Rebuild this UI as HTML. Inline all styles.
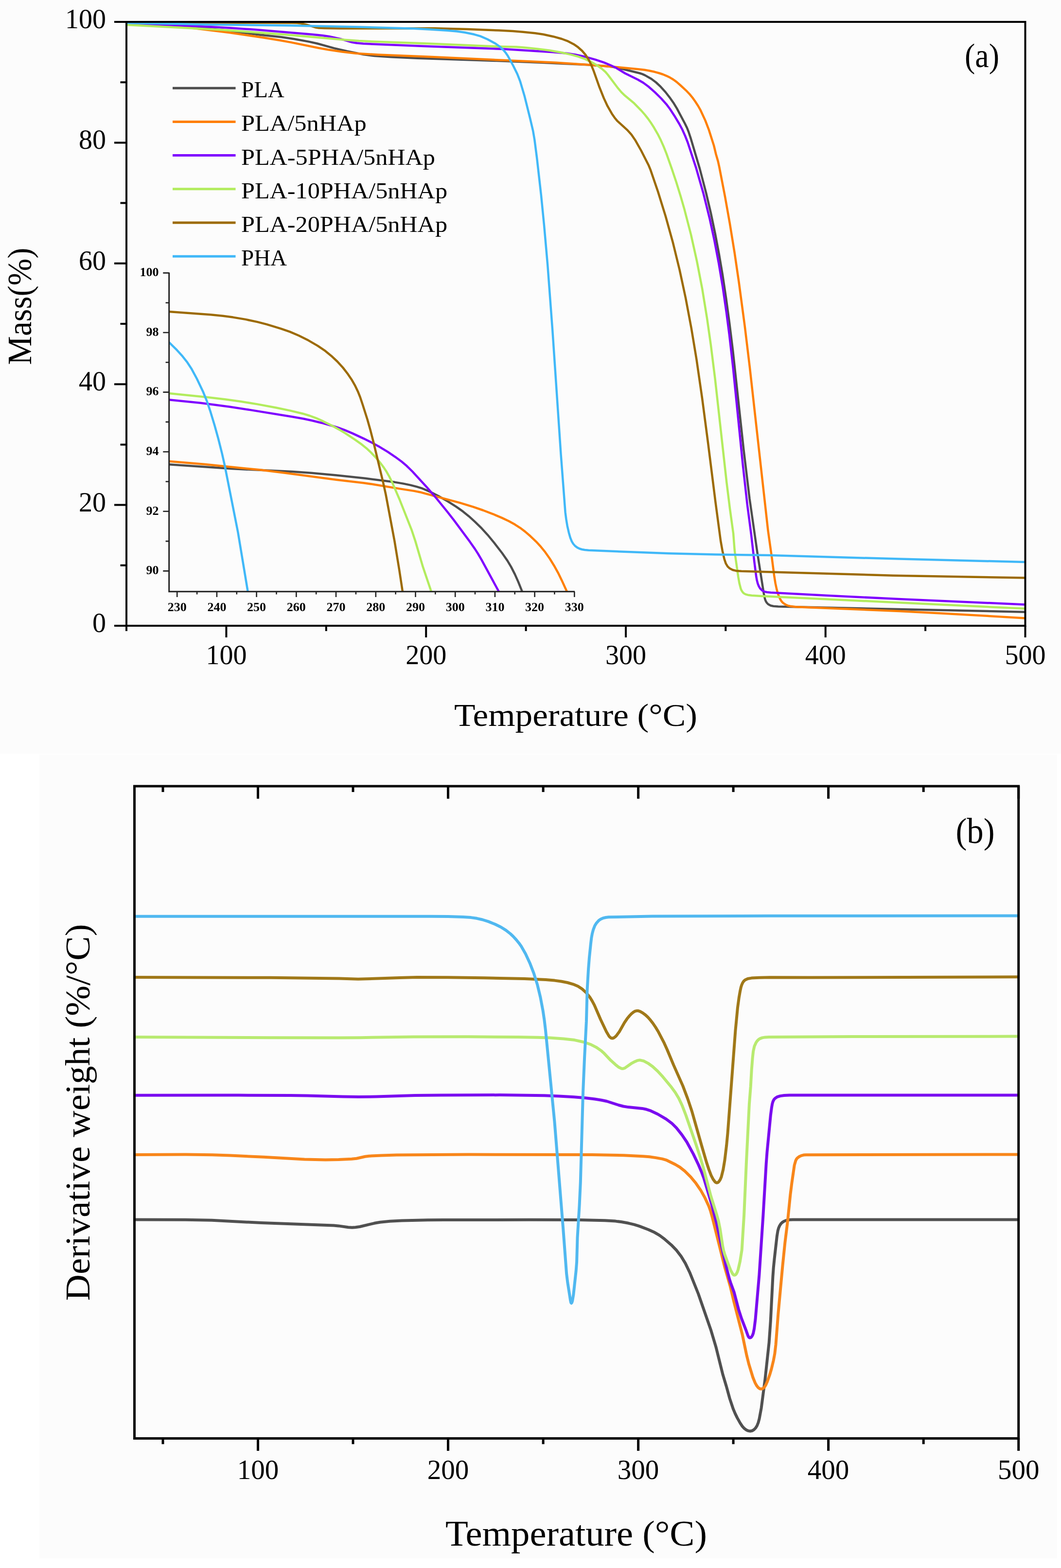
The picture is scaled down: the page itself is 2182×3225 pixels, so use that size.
<!DOCTYPE html><html><head><meta charset="utf-8"><title>TGA / DTG</title>
<style>html,body{margin:0;padding:0;background:#fff;}svg{display:block;}text{font-family:'Liberation Serif', 'DejaVu Serif', serif;fill:#000;}</style></head><body>
<svg xmlns="http://www.w3.org/2000/svg" width="2182" height="3225" viewBox="0 0 2182 3225">
<rect x="0" y="0" width="2182" height="3225" fill="#ffffff"/>
<rect x="0" y="0" width="2182" height="1550" fill="#fcfcfc"/>
<rect x="81" y="1552" width="2093" height="1653" fill="#fcfcfc"/>
<g id="plotA">
<defs><clipPath id="clipA"><rect x="258" y="45" width="1852" height="1242"/></clipPath><clipPath id="clipI"><rect x="347" y="540" width="835" height="677"/></clipPath></defs>
<g clip-path="url(#clipA)" fill="none" stroke-width="4.5" stroke-linejoin="round" stroke-linecap="round">
<path d="M260.0,47.5 L344.9,52.5 L422.6,58.3 L460.4,62.3 L533.9,71.5 L578.6,76.2 L605.3,80.2 L634.8,85.6 L652.4,89.5 L687.1,99.1 L713.4,105.3 L747.7,112.1 L770.5,115.1 L804.4,117.2 L858.4,119.7 L1021.3,125.1 L1119.2,128.9 L1209.1,133.2 L1249.0,136.3 L1260.9,137.8 L1272.7,140.0 L1315.4,150.5 L1321.1,152.4 L1326.6,154.9 L1339.6,162.3 L1349.2,169.5 L1358.7,178.4 L1368.7,189.5 L1378.5,202.2 L1385.9,212.8 L1392.1,223.1 L1408.5,254.0 L1412.9,263.0 L1416.2,271.4 L1420.3,283.7 L1439.1,347.0 L1452.0,396.3 L1462.1,439.1 L1470.9,481.2 L1478.7,522.5 L1486.1,565.9 L1493.2,613.3 L1500.2,664.9 L1507.2,721.4 L1529.3,924.3 L1541.5,1025.5 L1557.3,1135.4 L1570.7,1220.4 L1573.2,1232.1 L1574.6,1235.8 L1576.5,1239.2 L1579.8,1242.7 L1584.9,1245.5 L1590.6,1246.8 L1600.6,1247.5 L2108.5,1258.7" stroke="#4d4d4d"/>
<path d="M260.0,47.5 L323.9,51.0 L356.8,53.4 L389.7,56.9 L471.1,66.9 L542.3,77.5 L575.9,83.0 L598.5,87.1 L655.4,98.7 L675.0,102.3 L703.7,106.5 L731.5,109.8 L777.5,112.4 L882.4,116.8 L1143.2,128.7 L1214.1,133.6 L1270.9,138.3 L1314.7,142.4 L1325.6,143.8 L1335.5,145.5 L1346.2,147.8 L1355.9,150.5 L1363.4,153.0 L1370.8,156.1 L1378.0,159.6 L1384.9,163.7 L1391.3,168.4 L1398.9,175.0 L1410.7,185.8 L1418.3,193.7 L1424.0,200.6 L1429.8,208.8 L1435.8,218.0 L1440.7,226.7 L1450.4,247.6 L1457.9,267.2 L1468.2,299.6 L1472.4,317.1 L1476.6,331.5 L1479.2,343.2 L1491.0,404.1 L1500.8,459.2 L1510.6,519.4 L1519.5,579.8 L1531.7,671.0 L1541.8,754.4 L1579.5,1091.4 L1587.6,1148.9 L1592.1,1183.6 L1594.6,1199.4 L1597.1,1211.1 L1599.7,1220.8 L1602.5,1228.3 L1605.7,1234.4 L1608.0,1237.6 L1610.8,1240.4 L1616.6,1244.2 L1620.3,1245.6 L1625.1,1246.8 L1636.9,1248.3 L1849.8,1256.9 L1935.7,1261.4 L2108.5,1271.4" stroke="#ff7f00"/>
<path d="M260.0,47.5 L413.9,54.2 L473.8,57.4 L525.7,61.0 L641.3,70.8 L663.2,72.9 L677.0,74.9 L699.5,79.9 L724.4,87.1 L733.3,88.5 L747.3,89.8 L872.2,95.1 L1037.1,100.9 L1137.9,107.3 L1165.8,109.8 L1183.6,112.4 L1201.2,116.1 L1224.3,122.6 L1242.3,128.7 L1255.2,134.0 L1267.0,139.5 L1285.8,151.0 L1311.8,163.8 L1323.0,170.3 L1333.5,178.0 L1347.0,189.9 L1359.8,202.5 L1370.5,214.4 L1377.7,224.0 L1387.0,238.2 L1396.8,254.5 L1403.4,266.8 L1409.1,279.6 L1414.2,292.6 L1431.7,345.8 L1446.3,396.8 L1459.6,450.2 L1469.3,495.1 L1478.3,542.3 L1486.4,590.6 L1494.0,643.1 L1499.9,688.7 L1507.5,755.3 L1527.5,954.3 L1536.8,1037.8 L1545.0,1100.3 L1551.4,1155.9 L1555.2,1185.7 L1556.6,1193.5 L1558.4,1200.3 L1560.6,1205.8 L1563.1,1210.1 L1567.1,1214.3 L1571.4,1216.6 L1577.1,1218.0 L1585.0,1218.8 L1698.9,1224.8 L1847.7,1232.0 L2108.5,1243.4" stroke="#7f00ff"/>
<path d="M260.0,51.0 L453.8,61.2 L590.5,71.5 L710.0,82.1 L738.0,84.1 L781.9,86.1 L884.9,89.7 L1025.8,95.8 L1061.8,96.6 L1075.8,97.4 L1104.6,100.4 L1130.4,103.8 L1153.1,107.7 L1173.6,112.1 L1189.1,116.4 L1203.2,121.5 L1215.8,127.4 L1227.9,134.5 L1237.7,141.4 L1245.2,148.0 L1250.4,154.1 L1270.2,180.5 L1277.9,189.6 L1285.1,196.6 L1304.3,212.6 L1319.0,227.6 L1326.2,235.9 L1333.0,244.5 L1338.8,252.7 L1345.2,262.8 L1352.7,275.8 L1359.0,288.3 L1364.7,301.1 L1370.6,316.0 L1381.9,348.1 L1390.8,374.6 L1399.7,403.3 L1407.7,431.2 L1421.0,482.5 L1433.2,537.2 L1444.2,594.1 L1454.0,654.3 L1461.9,709.8 L1470.6,779.3 L1494.3,992.0 L1501.1,1046.6 L1508.1,1097.2 L1510.6,1130.1 L1512.2,1144.0 L1518.3,1186.6 L1520.5,1199.4 L1523.5,1211.0 L1525.1,1214.6 L1527.2,1217.8 L1529.2,1219.9 L1531.6,1221.5 L1534.3,1222.6 L1538.1,1223.7 L1546.0,1224.7 L1565.9,1226.0 L2108.5,1251.8" stroke="#b2ec5d"/>
<path d="M260.0,46.0 L600.1,46.9 L611.1,47.3 L619.0,48.2 L629.8,50.6 L649.8,56.6 L655.7,57.4 L667.7,58.0 L699.7,58.5 L893.8,58.3 L960.8,59.9 L1025.8,62.6 L1054.7,64.1 L1075.7,65.7 L1100.6,68.3 L1117.4,70.8 L1137.9,75.2 L1155.3,80.0 L1168.4,84.9 L1179.9,90.9 L1188.9,97.2 L1197.1,104.5 L1204.2,112.8 L1210.7,122.9 L1215.2,131.8 L1220.5,144.8 L1232.9,179.7 L1241.8,201.9 L1249.4,218.2 L1258.4,233.9 L1264.0,242.1 L1269.1,248.3 L1289.7,267.1 L1298.5,276.7 L1306.9,289.1 L1318.7,310.0 L1334.1,340.3 L1337.5,348.6 L1353.1,394.0 L1368.8,444.6 L1383.8,498.6 L1397.6,555.0 L1410.0,612.6 L1421.7,674.6 L1432.5,739.7 L1444.0,818.9 L1456.0,910.1 L1471.5,1033.2 L1482.1,1112.5 L1485.8,1133.2 L1489.6,1149.8 L1492.8,1159.2 L1496.4,1165.1 L1500.7,1169.1 L1506.8,1172.2 L1513.5,1173.9 L1524.5,1174.8 L1836.5,1183.7 L2108.5,1188.6" stroke="#9c6a00"/>
<path d="M260.0,47.0 L429.0,50.5 L595.1,52.6 L739.1,55.5 L850.1,58.8 L884.1,60.5 L920.0,62.7 L939.9,64.5 L955.8,66.8 L975.4,70.8 L987.8,74.4 L1002.5,80.7 L1019.2,89.8 L1028.9,96.8 L1036.7,104.5 L1040.5,109.2 L1044.4,115.0 L1055.9,136.0 L1063.9,152.2 L1069.7,167.1 L1078.5,196.8 L1089.9,242.4 L1096.1,268.7 L1099.3,287.4 L1104.2,325.1 L1112.9,401.7 L1119.0,463.4 L1126.2,545.1 L1136.2,678.8 L1153.5,934.3 L1162.6,1054.0 L1164.4,1067.9 L1166.7,1081.7 L1169.8,1095.3 L1172.8,1105.9 L1175.8,1113.3 L1178.8,1118.4 L1182.7,1122.9 L1187.5,1126.4 L1191.9,1128.5 L1196.7,1130.0 L1202.6,1131.0 L1210.5,1131.8 L1376.5,1138.3 L1472.5,1140.6 L1582.5,1142.1 L1849.5,1149.6 L2108.5,1156.0" stroke="#40b8f8"/>
</g>
<g clip-path="url(#clipI)" fill="none" stroke-width="4.5" stroke-linejoin="round">
<path d="M347.7,955.3 L476.5,964.1 L601.4,969.9 L640.3,972.8 L692.1,977.5 L750.8,983.7 L811.3,991.6 L829.1,994.6 L843.7,997.6 L857.3,1001.1 L868.7,1004.7 L883.4,1010.9 L902.1,1020.5 L921.2,1031.4 L938.9,1042.6 L952.0,1051.9 L964.4,1061.9 L977.0,1073.3 L990.6,1086.7 L1002.7,1099.9 L1016.1,1116.1 L1032.6,1137.5 L1043.5,1153.1 L1051.1,1165.9 L1058.9,1181.1 L1065.8,1196.6 L1074.0,1217.0" stroke="#4d4d4d"/>
<path d="M347.7,948.7 L422.4,955.1 L533.9,966.3 L586.5,972.7 L691.6,986.7 L747.3,993.3 L768.1,996.2 L821.3,1005.1 L852.0,1009.9 L863.7,1012.2 L945.8,1034.2 L973.5,1042.6 L993.4,1049.5 L1013.9,1057.3 L1032.3,1065.1 L1046.8,1072.0 L1059.0,1078.8 L1069.9,1085.8 L1080.2,1093.6 L1090.8,1102.8 L1102.4,1113.8 L1112.5,1124.8 L1121.3,1135.7 L1130.5,1148.8 L1139.4,1163.2 L1147.7,1178.1 L1155.2,1193.4 L1166.0,1217.0" stroke="#ff7f00"/>
<path d="M347.7,822.3 L412.4,828.7 L472.9,836.7 L514.5,843.1 L601.4,857.3 L624.1,861.3 L641.7,865.0 L661.1,869.7 L680.4,875.0 L694.8,879.4 L707.9,884.1 L724.5,891.1 L748.1,902.1 L766.0,911.1 L780.9,919.3 L797.1,929.2 L812.9,939.8 L825.8,949.3 L836.5,958.3 L847.9,969.5 L877.7,1001.9 L897.9,1025.4 L919.4,1051.8 L933.5,1069.9 L966.3,1114.2 L976.6,1128.9 L983.1,1139.0 L990.2,1151.1 L1026.0,1217.0" stroke="#7f00ff"/>
<path d="M347.7,809.0 L426.3,816.9 L464.1,821.4 L494.8,825.7 L529.4,831.4 L567.7,838.5 L597.1,844.6 L622.4,850.7 L636.8,855.0 L649.9,859.8 L664.5,866.4 L682.3,875.3 L697.3,883.4 L710.1,891.1 L730.2,904.4 L744.0,914.2 L753.3,921.7 L762.9,930.6 L772.5,940.7 L781.0,950.5 L788.2,960.1 L794.3,969.2 L800.3,979.6 L806.1,991.2 L821.6,1027.0 L846.3,1089.3 L854.2,1113.0 L869.7,1165.8 L887.0,1217.0" stroke="#b2ec5d"/>
<path d="M347.7,641.0 L433.5,647.3 L458.4,649.8 L479.2,652.6 L504.8,656.9 L529.3,662.1 L548.6,667.1 L577.3,675.8 L596.2,682.4 L614.6,690.2 L634.2,700.1 L653.2,711.1 L667.3,720.6 L681.3,731.9 L693.7,743.5 L705.1,756.0 L714.3,767.8 L722.8,780.2 L729.8,792.3 L735.9,804.9 L740.7,816.9 L745.8,832.1 L755.5,862.6 L762.0,885.7 L768.2,909.9 L788.0,992.6 L793.4,1017.0 L811.3,1112.3 L821.2,1172.5 L828.0,1217.0" stroke="#9c6a00"/>
<path d="M347.7,704.0 L364.0,720.2 L375.4,732.8 L385.3,745.4 L393.5,757.9 L404.9,779.0 L417.4,805.2 L425.3,824.6 L432.4,845.4 L441.4,875.1 L448.9,902.1 L456.5,932.2 L462.2,957.5 L489.4,1094.9 L509.6,1216.3" stroke="#40b8f8"/>
</g>
<rect x="260" y="45" width="1848.5" height="1242" fill="none" stroke="#000" stroke-width="4"/>
<path d="M235,1287.0H260 M235,1038.6H260 M235,790.2H260 M235,541.8H260 M235,293.4H260 M235,45.0H260 M247.5,1162.8H260 M247.5,914.4H260 M247.5,666.0H260 M247.5,417.6H260 M247.5,169.2H260 M465.4,1287V1311 M876.2,1287V1311 M1287.0,1287V1311 M1697.7,1287V1311 M2108.5,1287V1311 M260.0,1287V1298 M670.8,1287V1298 M1081.6,1287V1298 M1492.3,1287V1298 M1903.1,1287V1298" stroke="#000" stroke-width="4" fill="none"/>
<text x="218" y="1300.0" font-size="56" text-anchor="end">0</text>
<text x="218" y="1051.6" font-size="56" text-anchor="end">20</text>
<text x="218" y="803.2" font-size="56" text-anchor="end">40</text>
<text x="218" y="554.8" font-size="56" text-anchor="end">60</text>
<text x="218" y="306.4" font-size="56" text-anchor="end">80</text>
<text x="218" y="58.0" font-size="56" text-anchor="end">100</text>
<text x="465.4" y="1366" font-size="56" text-anchor="middle">100</text>
<text x="876.2" y="1366" font-size="56" text-anchor="middle">200</text>
<text x="1287.0" y="1366" font-size="56" text-anchor="middle">300</text>
<text x="1697.7" y="1366" font-size="56" text-anchor="middle">400</text>
<text x="2108.5" y="1366" font-size="56" text-anchor="middle">500</text>
<text x="934" y="1492.7" font-size="66" textLength="500" lengthAdjust="spacingAndGlyphs">Temperature (°C)</text>
<text transform="translate(63.5,750.4) rotate(-90)" x="0" y="0" font-size="70" textLength="241" lengthAdjust="spacingAndGlyphs">Mass(%)</text>
<text x="1984" y="138" font-size="70" textLength="71" lengthAdjust="spacingAndGlyphs">(a)</text>
<path d="M355,181.2H484.5" stroke="#4d4d4d" stroke-width="5" fill="none"/>
<text x="496" y="200.2" font-size="47">PLA</text>
<path d="M355,250.4H484.5" stroke="#ff7f00" stroke-width="5" fill="none"/>
<text x="496" y="269.4" font-size="47" textLength="257.7" lengthAdjust="spacingAndGlyphs">PLA/5nHAp</text>
<path d="M355,319.6H484.5" stroke="#7f00ff" stroke-width="5" fill="none"/>
<text x="496" y="338.6" font-size="47" textLength="399.0" lengthAdjust="spacingAndGlyphs">PLA-5PHA/5nHAp</text>
<path d="M355,388.8H484.5" stroke="#b2ec5d" stroke-width="5" fill="none"/>
<text x="496" y="407.8" font-size="47" textLength="424.0" lengthAdjust="spacingAndGlyphs">PLA-10PHA/5nHAp</text>
<path d="M355,458.0H484.5" stroke="#9c6a00" stroke-width="5" fill="none"/>
<text x="496" y="477.0" font-size="47" textLength="424.0" lengthAdjust="spacingAndGlyphs">PLA-20PHA/5nHAp</text>
<path d="M355,527.2H484.5" stroke="#40b8f8" stroke-width="5" fill="none"/>
<text x="496" y="546.2" font-size="47">PHA</text>
<path d="M347.7,560.4V1216.7H1182" stroke="#222" stroke-width="3" fill="none"/>
<path d="M335.3,1174.4H347.7 M335.3,1051.8H347.7 M335.3,929.2H347.7 M335.3,806.6H347.7 M335.3,684.0H347.7 M335.3,561.4H347.7 M340.6,1113.1H347.7 M340.6,990.5H347.7 M340.6,867.9H347.7 M340.6,745.3H347.7 M340.6,622.7H347.7 M364.2,1216.7V1228 M445.9,1216.7V1228 M527.6,1216.7V1228 M609.3,1216.7V1228 M691.0,1216.7V1228 M772.8,1216.7V1228 M854.5,1216.7V1228 M936.2,1216.7V1228 M1017.9,1216.7V1228 M1099.6,1216.7V1228 M1181.3,1216.7V1228 M405.1,1216.7V1222.4 M486.8,1216.7V1222.4 M568.5,1216.7V1222.4 M650.2,1216.7V1222.4 M731.9,1216.7V1222.4 M813.6,1216.7V1222.4 M895.3,1216.7V1222.4 M977.0,1216.7V1222.4 M1058.7,1216.7V1222.4 M1140.4,1216.7V1222.4" stroke="#222" stroke-width="2.6" fill="none"/>
<text x="326.5" y="1181.2" font-size="26" font-weight="bold" text-anchor="end">90</text>
<text x="326.5" y="1058.6" font-size="26" font-weight="bold" text-anchor="end">92</text>
<text x="326.5" y="936.0" font-size="26" font-weight="bold" text-anchor="end">94</text>
<text x="326.5" y="813.4" font-size="26" font-weight="bold" text-anchor="end">96</text>
<text x="326.5" y="690.8" font-size="26" font-weight="bold" text-anchor="end">98</text>
<text x="326.5" y="568.2" font-size="26" font-weight="bold" text-anchor="end">100</text>
<text x="364.2" y="1257" font-size="26" font-weight="bold" text-anchor="middle">230</text>
<text x="445.9" y="1257" font-size="26" font-weight="bold" text-anchor="middle">240</text>
<text x="527.6" y="1257" font-size="26" font-weight="bold" text-anchor="middle">250</text>
<text x="609.3" y="1257" font-size="26" font-weight="bold" text-anchor="middle">260</text>
<text x="691.0" y="1257" font-size="26" font-weight="bold" text-anchor="middle">270</text>
<text x="772.8" y="1257" font-size="26" font-weight="bold" text-anchor="middle">280</text>
<text x="854.5" y="1257" font-size="26" font-weight="bold" text-anchor="middle">290</text>
<text x="936.2" y="1257" font-size="26" font-weight="bold" text-anchor="middle">300</text>
<text x="1017.9" y="1257" font-size="26" font-weight="bold" text-anchor="middle">310</text>
<text x="1099.6" y="1257" font-size="26" font-weight="bold" text-anchor="middle">320</text>
<text x="1181.3" y="1257" font-size="26" font-weight="bold" text-anchor="middle">330</text>
</g>
<g id="plotB">
<defs><clipPath id="clipB"><rect x="276.5" y="1617" width="1818" height="1341"/></clipPath></defs>
<g clip-path="url(#clipB)" fill="none" stroke-width="6" stroke-linejoin="round" stroke-linecap="round">
<path d="M276.5,2508.6 L381.5,2508.8 L435.5,2509.8 L537.4,2515.1 L686.4,2520.6 L696.3,2521.4 L716.1,2524.3 L724.1,2524.8 L731.1,2524.3 L740.0,2523.0 L770.1,2515.8 L781.9,2513.7 L801.9,2511.8 L826.8,2510.5 L879.8,2509.3 L912.8,2509.0 L1090.9,2508.8 L1189.9,2509.1 L1243.9,2510.2 L1265.9,2511.6 L1278.8,2513.3 L1292.5,2515.8 L1304.2,2518.6 L1314.7,2521.9 L1333.4,2529.0 L1346.2,2534.8 L1356.5,2540.9 L1366.9,2548.7 L1380.5,2560.4 L1390.9,2571.2 L1400.7,2583.9 L1409.5,2598.4 L1419.0,2618.3 L1436.1,2661.0 L1462.3,2736.6 L1472.3,2770.1 L1486.6,2827.4 L1493.8,2851.3 L1500.7,2876.4 L1508.0,2898.2 L1511.9,2907.4 L1516.3,2916.4 L1522.2,2926.9 L1526.6,2933.5 L1530.6,2937.9 L1534.6,2940.9 L1539.1,2942.9 L1542.9,2943.5 L1546.6,2942.8 L1550.8,2940.3 L1554.2,2936.7 L1556.8,2932.5 L1559.4,2926.0 L1561.5,2918.3 L1565.7,2895.7 L1573.5,2836.1 L1581.6,2761.6 L1584.7,2717.7 L1589.4,2625.8 L1590.7,2607.8 L1592.6,2588.9 L1597.9,2542.2 L1599.7,2531.3 L1601.3,2525.6 L1603.3,2521.0 L1606.0,2516.8 L1608.8,2514.1 L1613.0,2511.5 L1617.7,2509.9 L1623.6,2508.8 L1630.6,2508.4 L2094.7,2508.5" stroke="#505050"/>
<path d="M276.5,2375.0 L381.5,2374.6 L436.5,2375.3 L473.5,2376.6 L542.4,2379.8 L626.3,2384.5 L669.3,2385.5 L696.3,2385.0 L723.2,2383.7 L733.2,2382.7 L750.8,2378.8 L758.7,2377.7 L784.6,2376.5 L815.6,2375.6 L964.6,2374.6 L1217.7,2375.1 L1282.6,2376.3 L1322.6,2378.2 L1335.6,2379.3 L1348.4,2381.1 L1362.2,2383.6 L1369.9,2385.8 L1388.7,2395.0 L1398.2,2400.6 L1408.3,2408.7 L1420.4,2420.6 L1431.2,2433.7 L1441.4,2448.6 L1449.2,2462.6 L1458.0,2481.6 L1461.1,2490.1 L1464.6,2502.6 L1490.8,2607.4 L1501.6,2644.8 L1509.2,2676.9 L1526.6,2744.7 L1535.6,2787.8 L1540.2,2806.2 L1548.4,2833.0 L1552.9,2844.1 L1556.3,2850.2 L1559.4,2854.1 L1562.5,2856.2 L1565.2,2856.8 L1568.7,2855.9 L1571.7,2853.5 L1574.9,2848.6 L1578.1,2841.3 L1582.8,2828.1 L1586.5,2815.6 L1590.7,2798.1 L1593.3,2784.3 L1595.5,2765.5 L1600.4,2701.7 L1609.5,2603.1 L1614.3,2556.3 L1619.7,2512.6 L1625.4,2456.9 L1628.4,2433.1 L1633.7,2396.5 L1636.5,2386.9 L1638.3,2383.5 L1640.3,2381.3 L1643.4,2379.0 L1647.9,2376.9 L1652.7,2375.6 L1657.7,2375.2 L2094.7,2374.5" stroke="#f8861a"/>
<path d="M276.5,2252.7 L490.5,2252.6 L597.5,2253.0 L631.5,2253.5 L705.5,2255.6 L737.5,2256.0 L773.5,2255.5 L853.5,2253.0 L907.5,2252.4 L1027.5,2252.1 L1119.5,2253.2 L1149.5,2254.4 L1180.5,2256.3 L1204.4,2258.2 L1223.2,2260.5 L1237.1,2262.7 L1247.8,2265.0 L1272.5,2273.0 L1282.2,2275.5 L1292.1,2277.1 L1320.9,2279.9 L1329.7,2281.8 L1338.3,2284.7 L1352.7,2291.5 L1369.9,2301.7 L1381.9,2310.7 L1391.2,2319.8 L1402.3,2333.9 L1412.4,2348.8 L1425.8,2373.4 L1436.6,2396.0 L1443.2,2411.6 L1447.4,2422.9 L1464.0,2478.5 L1473.8,2516.2 L1493.4,2605.1 L1499.9,2630.2 L1502.7,2638.8 L1509.6,2657.6 L1519.0,2693.3 L1524.8,2711.4 L1533.8,2734.8 L1538.1,2747.0 L1539.9,2750.3 L1541.1,2751.3 L1542.4,2751.6 L1544.5,2750.7 L1546.3,2748.6 L1547.7,2746.1 L1549.1,2742.3 L1551.1,2732.6 L1553.5,2713.7 L1561.4,2622.0 L1569.4,2500.3 L1575.7,2393.5 L1577.5,2369.5 L1584.8,2293.9 L1586.9,2278.0 L1588.3,2270.1 L1589.7,2265.4 L1591.5,2261.8 L1594.0,2258.9 L1598.1,2256.2 L1604.7,2254.1 L1612.6,2253.0 L1623.6,2252.5 L2094.7,2252.5" stroke="#7a0cf0"/>
<path d="M276.5,2133.0 L557.6,2134.3 L696.6,2134.5 L740.6,2134.2 L851.7,2132.5 L962.7,2132.3 L1064.7,2133.0 L1105.7,2133.7 L1130.7,2134.6 L1158.7,2136.5 L1181.5,2139.1 L1199.1,2143.0 L1208.6,2146.0 L1216.1,2148.8 L1225.9,2153.8 L1235.8,2160.6 L1242.5,2166.6 L1256.2,2181.1 L1265.9,2189.8 L1272.9,2195.3 L1278.3,2197.7 L1281.2,2197.9 L1284.8,2196.9 L1297.8,2187.7 L1305.7,2183.4 L1310.2,2181.4 L1314.1,2180.6 L1317.0,2180.6 L1323.7,2182.2 L1332.6,2186.8 L1342.3,2193.8 L1352.6,2203.3 L1362.8,2214.3 L1379.4,2234.3 L1388.9,2247.2 L1396.1,2259.2 L1402.9,2273.7 L1410.4,2293.3 L1431.3,2353.8 L1439.7,2379.4 L1446.4,2401.5 L1462.0,2460.5 L1473.7,2497.7 L1477.5,2511.1 L1480.7,2526.8 L1486.1,2562.4 L1487.9,2571.2 L1490.1,2578.9 L1498.2,2601.5 L1503.1,2613.6 L1507.0,2620.4 L1508.9,2622.2 L1510.3,2622.7 L1512.4,2622.1 L1514.3,2620.2 L1516.1,2616.7 L1518.1,2611.0 L1521.9,2594.5 L1525.7,2570.8 L1530.1,2499.9 L1535.1,2387.0 L1540.9,2271.1 L1543.8,2234.2 L1545.7,2200.2 L1547.6,2176.3 L1549.1,2162.4 L1551.5,2151.7 L1554.8,2144.4 L1557.0,2141.2 L1559.8,2138.3 L1563.1,2136.1 L1567.7,2134.4 L1573.6,2133.4 L1581.5,2133.0 L1754.6,2132.1 L2094.7,2131.6" stroke="#b8ea70"/>
<path d="M276.5,2010.0 L555.6,2010.8 L697.6,2012.5 L736.6,2013.7 L754.6,2013.3 L821.5,2010.9 L857.5,2010.0 L920.5,2010.3 L994.6,2011.2 L1078.6,2013.0 L1122.5,2015.1 L1140.5,2016.6 L1154.3,2018.5 L1167.1,2021.0 L1178.6,2024.3 L1188.7,2028.6 L1197.1,2034.0 L1205.2,2041.4 L1212.8,2050.7 L1217.6,2058.3 L1222.3,2067.1 L1235.0,2096.5 L1247.0,2121.8 L1252.6,2131.2 L1254.6,2133.4 L1256.8,2135.0 L1259.4,2135.5 L1262.0,2134.8 L1265.1,2132.6 L1267.9,2129.8 L1273.8,2121.7 L1284.1,2103.5 L1289.7,2095.2 L1294.8,2089.0 L1299.0,2084.7 L1302.8,2081.6 L1306.3,2079.7 L1310.0,2078.9 L1312.9,2079.1 L1316.6,2080.3 L1321.8,2083.3 L1327.4,2087.5 L1332.5,2092.3 L1337.8,2098.3 L1342.7,2104.6 L1348.3,2112.9 L1354.0,2122.3 L1366.0,2145.4 L1372.1,2159.0 L1385.2,2190.4 L1404.3,2233.4 L1414.2,2259.6 L1422.8,2285.2 L1442.7,2355.4 L1452.8,2390.0 L1457.8,2405.2 L1462.4,2417.3 L1466.5,2425.4 L1470.6,2430.9 L1472.9,2432.4 L1474.4,2432.7 L1476.8,2431.9 L1478.7,2430.0 L1481.3,2425.8 L1483.6,2420.3 L1487.2,2405.7 L1490.5,2386.0 L1494.1,2356.2 L1496.6,2330.3 L1512.4,2119.9 L1516.9,2073.1 L1519.7,2052.3 L1522.1,2038.5 L1523.8,2030.7 L1525.3,2025.9 L1527.3,2021.4 L1529.5,2018.1 L1532.4,2015.5 L1537.8,2013.0 L1545.6,2011.6 L1561.6,2010.8 L1583.6,2010.3 L1664.6,2010.5 L2094.7,2009.2" stroke="#a07818"/>
<path d="M276.5,1884.7 L882.5,1884.7 L921.5,1885.1 L952.5,1886.1 L968.5,1887.1 L980.3,1888.8 L992.0,1891.5 L1004.4,1895.4 L1018.3,1901.0 L1030.0,1906.8 L1040.2,1913.1 L1049.6,1920.5 L1055.4,1926.0 L1061.5,1932.6 L1067.2,1939.6 L1071.8,1946.1 L1080.8,1961.7 L1089.6,1980.7 L1097.9,2002.2 L1105.1,2025.1 L1111.4,2051.3 L1116.6,2078.8 L1119.4,2097.6 L1121.9,2118.5 L1140.4,2306.6 L1158.0,2524.9 L1165.1,2619.6 L1167.3,2637.5 L1173.2,2675.0 L1174.2,2679.3 L1175.1,2680.3 L1176.0,2679.3 L1177.1,2675.9 L1179.3,2663.1 L1184.6,2614.4 L1186.1,2595.5 L1187.5,2545.5 L1191.6,2478.6 L1193.8,2431.7 L1199.1,2244.8 L1202.2,2172.8 L1205.9,2100.9 L1207.6,2035.9 L1210.1,1993.0 L1212.0,1969.1 L1215.0,1940.2 L1216.3,1929.3 L1217.9,1920.5 L1220.2,1911.8 L1223.1,1904.3 L1226.7,1898.4 L1231.4,1893.2 L1235.4,1890.4 L1239.9,1888.4 L1245.8,1887.0 L1251.7,1886.3 L1341.7,1884.6 L1583.7,1883.7 L2094.7,1883.6" stroke="#50b8f0"/>
</g>
<rect x="276.5" y="1617" width="1818.2" height="1341.5" fill="none" stroke="#000" stroke-width="5"/>
<path d="M530.5,2958.5V2984 M530.5,1617V1642.7 M921.5,2958.5V2984 M921.5,1617V1642.7 M1312.6,2958.5V2984 M1312.6,1617V1642.7 M1703.6,2958.5V2984 M1703.6,1617V1642.7 M2094.7,2958.5V2984 M2094.7,1617V1642.7 M335.0,2958.5V2970.2 M335.0,1617V1628.9 M726.0,2958.5V2970.2 M726.0,1617V1628.9 M1117.1,2958.5V2970.2 M1117.1,1617V1628.9 M1508.1,2958.5V2970.2 M1508.1,1617V1628.9 M1899.2,2958.5V2970.2 M1899.2,1617V1628.9" stroke="#000" stroke-width="5" fill="none"/>
<text x="530.5" y="3042" font-size="57" text-anchor="middle">100</text>
<text x="921.5" y="3042" font-size="57" text-anchor="middle">200</text>
<text x="1312.6" y="3042" font-size="57" text-anchor="middle">300</text>
<text x="1703.6" y="3042" font-size="57" text-anchor="middle">400</text>
<text x="2094.7" y="3042" font-size="57" text-anchor="middle">500</text>
<text x="916" y="3179" font-size="73" textLength="538" lengthAdjust="spacingAndGlyphs">Temperature (°C)</text>
<text transform="translate(183.6,2675.5) rotate(-90)" x="0" y="0" font-size="72" textLength="775" lengthAdjust="spacingAndGlyphs">Derivative weight (%/°C)</text>
<text x="1965.5" y="1734" font-size="74" textLength="80" lengthAdjust="spacingAndGlyphs">(b)</text>
</g>
</svg></body></html>
